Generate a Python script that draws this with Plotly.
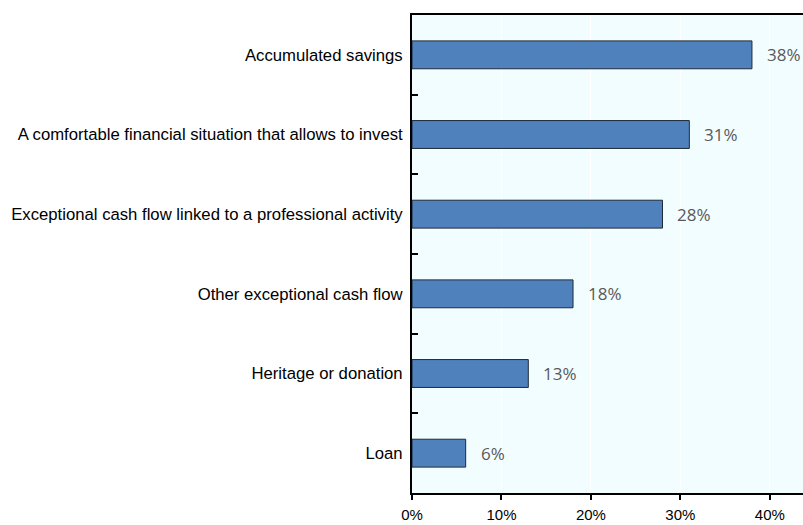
import plotly.graph_objects as go

categories = [
    "Loan",
    "Heritage or donation",
    "Other exceptional cash flow",
    "Exceptional cash flow linked to a professional activity",
    "A comfortable financial situation that allows to invest",
    "Accumulated savings",
]
values = [6, 13, 18, 28, 31, 38]
tick_vals = [0, 10, 20, 30, 40]
tick_text = ["0%", "10%", "20%", "30%", "40%"]

fig = go.Figure()
fig.add_trace(go.Bar(
    x=values, y=categories, orientation="h",
    marker=dict(color="#4F81BD", line=dict(color="#1F2A38", width=1)),
    hoverinfo="skip",
))

for v, c in zip(values, categories):
    fig.add_annotation(x=v, y=c, text=f"{v}%", showarrow=False,
                       xanchor="left", xshift=13, yshift=0,
                       font=dict(family="Open Sans", size=17, color="#595959"))

# the plot area runs past the right edge of the window, as in the reference
fig.update_layout(
    width=811, height=525,
    margin=dict(l=412, r=0, t=15, b=32),
    paper_bgcolor="white", plot_bgcolor="#F2FDFF",
    bargap=0.65, showlegend=False,
    font=dict(family="Liberation Sans, Arial", size=15, color="#000000"),
)
fig.update_xaxes(
    range=[0, 44.6], tickvals=tick_vals, ticktext=tick_text,
    tickfont=dict(size=15),
    showgrid=True, gridcolor="white", gridwidth=1,
    showline=True, linecolor="black", linewidth=2, mirror=True,
    ticks="outside", ticklen=5, tickwidth=2, tickcolor="black",
    zeroline=False, ticklabelstandoff=2, automargin=False,
)
fig.update_yaxes(
    categoryorder="array", categoryarray=categories, range=[-0.5, 5.5],
    tickfont=dict(size=16.7),
    showgrid=False, showline=True, linecolor="black", linewidth=2,
    ticks="inside", tickson="boundaries", ticklen=6, tickwidth=2, tickcolor="black",
    ticklabelstandoff=4, automargin=False,
)

fig.write_html(
    "out.html",
    config={"displayModeBar": False},
    post_script="document.body.style.margin='0';document.body.style.overflow='hidden';",
)
